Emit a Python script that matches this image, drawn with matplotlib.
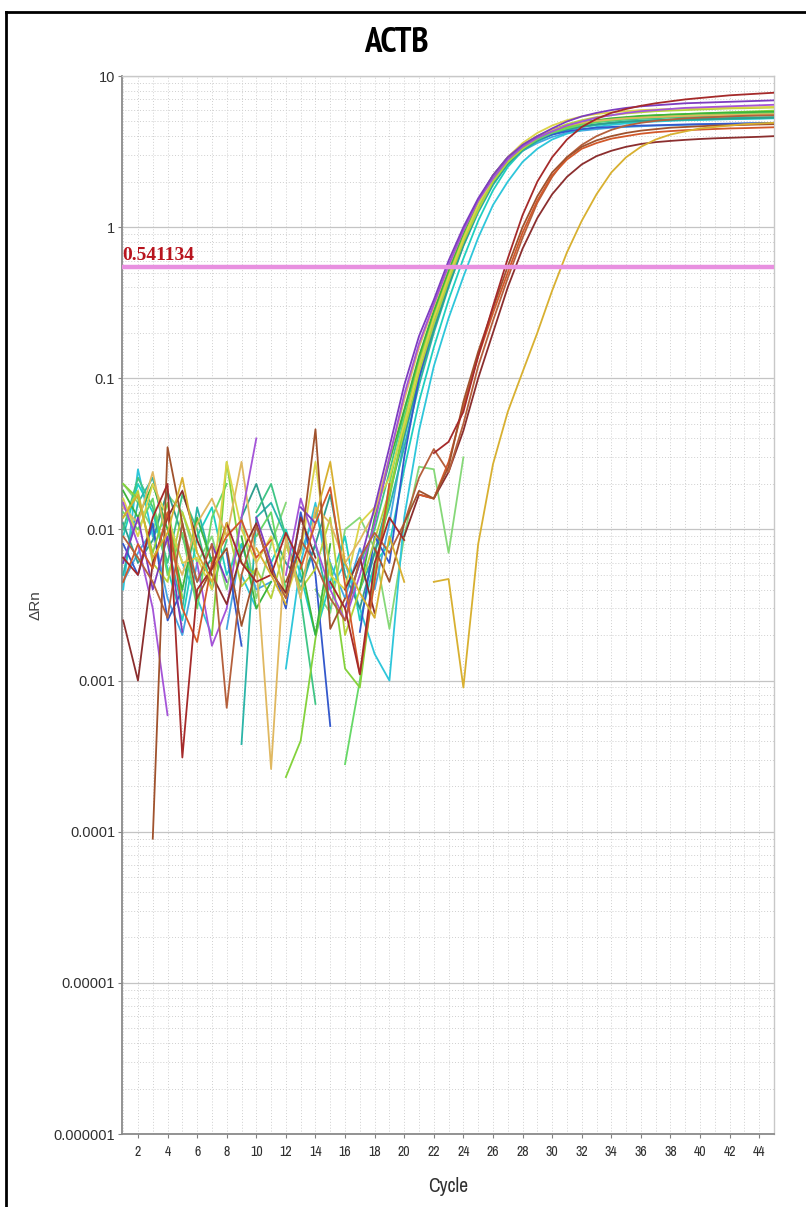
import numpy as np
import matplotlib
matplotlib.use("Agg")
import matplotlib.pyplot as plt
from matplotlib.ticker import LogLocator, MultipleLocator, NullFormatter, FixedLocator
from matplotlib.lines import Line2D

# cycle numbers and axis labels
cycles = list(range(1, 46))
x_ticks = list(range(2, 45, 2))
y_ticks = [1e-6, 1e-5, 1e-4, 1e-3, 1e-2, 1e-1, 1, 10]
y_tick_labels = ["0.000001", "0.00001", "0.0001", "0.001", "0.01", "0.1", "1", "10"]
threshold = 0.541134
N = None

# delta Rn per cycle, 9 cycles per row (1-9, 10-18, 19-27, 28-36, 37-45)
purple = [0.006, 0.012, 0.004, 0.009, 0.0021, N, 0.008, 0.0045, N,
          0.012, 0.006, N, 0.014, 0.011, N, 0.003, 0.006, 0.014,
          0.035, 0.09, 0.19, 0.33, 0.6, 1.0, 1.55, 2.2, 2.9,
          3.5, 4.0, 4.5, 5.0, 5.4, 5.7, 5.95, 6.15, 6.3,
          6.4, 6.5, 6.6, 6.65, 6.7, 6.75, 6.8, 6.85, 6.9]
violet = [0.015, 0.008, 0.003, 0.00059, N, 0.006, 0.0017, 0.003, 0.012,
          0.04, N, 0.005, 0.016, 0.008, 0.004, 0.0025, 0.005, 0.011,
          0.03, 0.078, 0.17, 0.31, 0.56, 0.95, 1.5, 2.1, 2.8,
          3.4, 3.9, 4.3, 4.7, 5.0, 5.3, 5.5, 5.7, 5.85,
          5.95, 6.05, 6.15, 6.2, 6.25, 6.3, 6.35, 6.4, 6.45]
green = [0.018, 0.012, 0.02, 0.01, 0.004, 0.012, 0.006, N, 0.009,
         0.003, 0.0045, N, 0.006, 0.002, 0.008, N, 0.004, 0.012,
         0.028, 0.062, 0.14, 0.28, 0.52, 0.92, 1.5, 2.2, 2.9,
         3.5, 4.0, 4.4, 4.7, 4.95, 5.1, 5.25, 5.35, 5.45,
         5.5, 5.55, 5.6, 5.65, 5.7, 5.72, 5.75, 5.78, 5.8]
lime = [0.02, 0.016, 0.007, 0.015, 0.0035, N, 0.002, 0.028, 0.006,
        0.005, N, 0.00023, 0.0004, 0.0019, 0.006, 0.0012, 0.0009, 0.005,
        0.016, 0.05, 0.13, 0.26, 0.5, 0.88, 1.45, 2.1, 2.8,
        3.4, 3.9, 4.3, 4.6, 4.85, 5.05, 5.2, 5.3, 5.4,
        5.5, 5.55, 5.6, 5.65, 5.7, 5.75, 5.8, 5.85, 5.9]
blue = [0.008, 0.005, 0.011, 0.0025, 0.004, N, N, 0.007, 0.0017,
        N, 0.006, 0.003, 0.013, 0.005, 0.0005, N, 0.0021, 0.009,
        0.006, 0.03, 0.1, 0.24, 0.48, 0.9, 1.5, 2.2, 2.9,
        3.4, 3.8, 4.1, 4.3, 4.45, 4.55, 4.6, 4.65, 4.7,
        4.72, 4.75, 4.78, 4.8, 4.82, 4.84, 4.86, 4.88, 4.9]
cyan = [0.004, 0.025, 0.009, 0.012, 0.006, 0.0035, 0.002, N, 0.005,
        0.003, N, 0.0012, 0.006, 0.015, 0.004, 0.006, 0.003, 0.0015,
        0.001, 0.012, 0.045, 0.12, 0.25, 0.47, 0.85, 1.4, 2.0,
        2.7, 3.3, 3.8, 4.15, 4.4, 4.6, 4.75, 4.85, 4.95,
        5.0, 5.05, 5.1, 5.12, 5.15, 5.18, 5.2, 5.22, 5.25]
turquoise = [0.005, 0.015, 0.022, 0.008, 0.003, 0.014, 0.006, N, 0.00038,
             0.012, 0.015, 0.009, 0.004, 0.008, 0.003, N, 0.004, 0.007,
             0.014, 0.035, 0.09, 0.2, 0.4, 0.75, 1.25, 1.9, 2.6,
             3.2, 3.7, 4.1, 4.4, 4.6, 4.75, 4.9, 5.0, 5.05,
             5.1, 5.15, 5.2, 5.22, 5.25, 5.28, 5.3, 5.32, 5.35]
light_green = [0.013, 0.01, 0.016, 0.005, 0.0095, 0.003, 0.012, 0.02, N,
               0.009, 0.013, 0.004, N, 0.0065, N, 0.00028, 0.001, 0.005,
               0.02, 0.055, 0.12, 0.25, 0.46, 0.82, 1.35, 2.0, 2.7,
               3.3, 3.8, 4.2, 4.5, 4.75, 4.95, 5.1, 5.2, 5.3,
               5.35, 5.4, 5.45, 5.5, 5.55, 5.6, 5.62, 5.65, 5.68]
yellow_green = [0.012, 0.018, 0.006, 0.0045, 0.013, 0.007, N, 0.011, 0.0042,
                0.0055, 0.0035, 0.008, 0.004, 0.0055, 0.012, 0.002, 0.004, 0.0085,
                0.018, 0.045, 0.11, 0.23, 0.44, 0.8, 1.3, 2.0, 2.7,
                3.3, 3.9, 4.4, 4.8, 5.1, 5.35, 5.5, 5.65, 5.75,
                5.85, 5.9, 5.95, 6.0, 6.05, 6.1, 6.12, 6.15, 6.18]
spring = [0.01, 0.022, 0.014, 0.006, 0.017, 0.01, 0.004, 0.0085, N,
          0.013, 0.02, 0.009, 0.0035, 0.0007, N, 0.003, 0.006, 0.01,
          0.024, 0.06, 0.13, 0.27, 0.5, 0.88, 1.4, 2.1, 2.8,
          3.4, 3.9, 4.3, 4.6, 4.8, 4.95, 5.05, 5.15, 5.2,
          5.25, 5.3, 5.35, 5.38, 5.4, 5.42, 5.45, 5.48, 5.5]
sky = [0.0045, 0.007, 0.01, 0.0035, 0.002, 0.006, N, 0.0022, 0.008,
       0.004, 0.0045, N, 0.007, 0.013, 0.006, 0.0035, 0.0075, 0.004,
       0.011, 0.04, 0.1, 0.22, 0.43, 0.78, 1.3, 1.95, 2.6,
       3.2, 3.6, 3.95, 4.2, 4.35, 4.45, 4.55, 4.6, 4.65,
       4.7, 4.72, 4.75, 4.78, 4.8, 4.82, 4.84, 4.86, 4.88]
aqua = [0.009, 0.02, 0.013, 0.0055, 0.0025, 0.009, 0.014, 0.005, 0.008,
        N, 0.006, 0.01, 0.005, 0.002, 0.0045, 0.009, 0.0025, 0.006,
        0.008, 0.025, 0.07, 0.16, 0.33, 0.62, 1.1, 1.75, 2.5,
        3.2, 3.7, 4.1, 4.4, 4.6, 4.75, 4.85, 4.95, 5.0,
        5.05, 5.1, 5.12, 5.15, 5.18, 5.2, 5.22, 5.25, 5.28]
yellow = [0.016, 0.009, 0.02, 0.012, 0.006, 0.0065, 0.004, 0.028, 0.01,
          0.006, 0.009, 0.0035, 0.007, 0.028, 0.005, 0.004, 0.011, 0.014,
          0.022, 0.05, 0.12, 0.25, 0.47, 0.84, 1.4, 2.1, 2.9,
          3.6, 4.2, 4.7, 5.1, 5.4, 5.6, 5.75, 5.85, 5.95,
          6.0, 6.05, 6.1, 6.12, 6.15, 6.18, 6.2, 6.22, 6.25]
khaki = [0.014, 0.011, 0.024, 0.008, 0.005, 0.011, 0.016, 0.009, 0.028,
         0.006, 0.00026, 0.009, 0.0035, 0.014, 0.011, 0.006, 0.0085, 0.013,
         0.03, 0.072, 0.16, 0.3, 0.55, 0.95, 1.5, 2.2, 2.9,
         3.5, 4.0, 4.4, 4.7, 4.9, 5.05, 5.15, 5.25, 5.3,
         5.35, 5.4, 5.45, 5.48, 5.5, 5.52, 5.55, 5.58, 5.6]
teal = [0.011, 0.006, 0.0085, 0.018, 0.009, 0.0045, 0.0065, N, 0.012,
        0.02, 0.01, 0.006, 0.0045, 0.008, 0.017, 0.005, 0.003, 0.007,
        0.017, 0.042, 0.1, 0.21, 0.41, 0.76, 1.28, 1.95, 2.65,
        3.25, 3.75, 4.15, 4.45, 4.65, 4.8, 4.9, 5.0, 5.05,
        5.1, 5.12, 5.15, 5.18, 5.2, 5.22, 5.25, 5.28, 5.3]
dark_red = [0.0065, 0.005, 0.012, 0.02, 0.00031, 0.004, 0.0055, 0.011, 0.006,
            0.0045, 0.005, 0.0095, 0.006, N, 0.0045, 0.003, 0.0011, 0.006,
            0.012, 0.0085, N, 0.032, 0.038, 0.06, 0.14, 0.3, 0.62,
            1.2, 2.0, 2.9, 3.8, 4.6, 5.2, 5.7, 6.05, 6.35,
            6.6, 6.8, 7.0, 7.15, 7.3, 7.45, 7.55, 7.65, 7.75]
brown = [0.003, N, 0.00009, 0.035, 0.011, 0.0035, 0.0055, 0.0075, 0.0023,
         0.0055, N, 0.0045, 0.0075, 0.046, 0.0022, 0.0035, N, 0.0075,
         0.0045, 0.011, 0.018, 0.016, 0.026, 0.07, 0.15, 0.29, 0.55,
         1.0, 1.6, 2.3, 2.9, 3.4, 3.75, 4.0, 4.2, 4.35,
         4.45, 4.55, 4.6, 4.65, 4.7, 4.72, 4.75, 4.78, 4.8]
orange_red = [0.0045, 0.008, 0.0055, 0.013, 0.003, 0.0018, 0.006, 0.009, 0.0115,
              0.0065, 0.0085, N, 0.0055, 0.011, 0.019, 0.0043, 0.0011, 0.0045,
              0.02, N, 0.017, 0.016, 0.028, 0.065, 0.14, 0.27, 0.5,
              0.92, 1.5, 2.2, 2.8, 3.3, 3.6, 3.85, 4.0, 4.15,
              4.25, 4.32, 4.38, 4.42, 4.46, 4.5, 4.52, 4.55, 4.58]
sienna = [0.009, 0.0065, 0.0045, 0.0026, 0.011, 0.0045, 0.008, 0.00066, 0.005,
          0.0105, 0.0055, 0.0035, 0.0085, 0.006, 0.0035, 0.0025, 0.0065, 0.0095,
          0.007, 0.011, 0.022, 0.034, 0.024, 0.05, 0.12, 0.24, 0.46,
          0.85, 1.45, 2.15, 2.9, 3.5, 4.0, 4.4, 4.7, 4.9,
          5.05, 5.15, 5.25, 5.3, 5.35, 5.4, 5.45, 5.48, 5.5]
maroon = [0.0025, 0.001, 0.006, 0.012, 0.018, 0.0085, 0.005, 0.0032, 0.007,
          0.011, 0.0052, 0.0038, 0.012, 0.0065, N, 0.004, 0.0065, 0.0028,
          N, 0.009, 0.017, 0.016, 0.024, 0.045, 0.1, 0.2, 0.4,
          0.72, 1.15, 1.65, 2.15, 2.6, 2.95, 3.2, 3.4, 3.55,
          3.65, 3.72, 3.78, 3.83, 3.87, 3.9, 3.93, 3.96, 4.0]
gold = [0.012, 0.017, 0.0065, 0.0095, 0.022, 0.007, 0.0045, 0.011, N,
        0.0075, 0.005, 0.0032, N, 0.012, 0.028, 0.006, 0.0038, 0.0026,
        0.009, 0.0045, N, 0.0045, 0.0047, 0.0009, 0.008, 0.027, 0.06,
        0.11, 0.2, 0.38, 0.68, 1.1, 1.65, 2.3, 2.9, 3.4,
        3.8, 4.1, 4.3, 4.5, 4.6, 4.7, 4.8, 4.85, 4.9]
pale_green = [0.02, 0.015, 0.01, 0.017, 0.013, 0.006, 0.009, 0.004, 0.012,
              0.0035, 0.008, 0.015, N, 0.004, 0.0028, 0.01, 0.012, 0.0075,
              0.0022, 0.009, 0.026, 0.025, 0.007, 0.03, N, N, N,
              N, N, N, N, N, N, N, N, N,
              N, N, N, N, N, N, N, N, N]

wells = [
    (pale_green, "#86d878"), (sky, "#45a6e2"), (cyan, "#2ec6da"), (aqua, "#1fcfc0"),
    (turquoise, "#2bb5a8"), (teal, "#2e9e8e"), (blue, "#3358cc"), (spring, "#3fc585"),
    (light_green, "#66d866"), (yellow_green, "#b6d23a"), (lime, "#84d23c"),
    (green, "#3cb43c"), (yellow, "#dcd44a"), (khaki, "#e0b860"),
    (violet, "#a454d8"), (purple, "#7d3cc0"),
    (maroon, "#8b2e2e"), (sienna, "#b5603c"), (orange_red, "#d2582a"),
    (brown, "#a0522d"), (dark_red, "#a52a2a"), (gold, "#d8b030"),
]

narrow = ["Liberation Sans Narrow", "Arial Narrow", "Archivo Narrow", "PT Sans Narrow",
          "Roboto Condensed", "Liberation Sans"]
narrow_bold = ["Liberation Sans Narrow", "Arial Narrow", "PT Sans Narrow", "Fjalla One",
               "Archivo Narrow", "Liberation Sans"]
plain = ["Liberation Sans", "Arimo", "DejaVu Sans"]

fig = plt.figure(figsize=(8.06, 12.07), dpi=100)
ax = fig.add_axes([122 / 806, 1 - 1134 / 1207, (774 - 122) / 806, (1134 - 76) / 1207])

for values, colour in wells:
    ax.plot(cycles, np.array(values, dtype=float), color=colour, lw=1.3, zorder=3)

# threshold line
ax.axhline(threshold, color="#e890e0", lw=3.2, zorder=4)
ax.text(0.95, threshold * 1.06, f"{threshold:g}", color="#b8141e", fontsize=14,
        fontweight="bold", family="Liberation Serif", ha="left", va="bottom", zorder=5)

ax.set_yscale("log")
ax.set_ylim(1e-6, 10)
ax.set_xlim(0.92, 45.0)
ax.yaxis.set_major_locator(FixedLocator(y_ticks))
ax.set_yticklabels(y_tick_labels)
ax.yaxis.set_minor_locator(LogLocator(base=10, subs=range(2, 10), numticks=20))
ax.yaxis.set_minor_formatter(NullFormatter())
ax.set_xticks(x_ticks)
ax.xaxis.set_minor_locator(MultipleLocator(1))

ax.grid(which="major", axis="y", color="#c4c4c4", lw=0.9)
ax.grid(which="minor", axis="y", color="#cfcfcf", lw=0.7, ls=(0, (1, 2)))
ax.grid(which="both", axis="x", color="#cfcfcf", lw=0.7, ls=(0, (1, 2)))
ax.set_axisbelow(True)

ax.tick_params(which="minor", length=0)
ax.tick_params(axis="y", which="major", length=3, color="#808080", labelsize=10.5,
               labelcolor="#303030", pad=2)
ax.tick_params(axis="x", which="major", length=3, color="#808080", labelsize=10,
               labelcolor="#303030", pad=5)
for lab in ax.get_xticklabels():
    lab.set_family(narrow)
for lab in ax.get_yticklabels():
    lab.set_family(plain)

for side in ("left", "bottom"):
    ax.spines[side].set_color("#8a8a8a")
    ax.spines[side].set_linewidth(1.3)
for side in ("top", "right"):
    ax.spines[side].set_color("#c8c8c8")
    ax.spines[side].set_linewidth(1.0)

ax.set_ylabel("ΔRn", fontsize=11, color="#404040", family=plain, labelpad=8)
ax.set_xlabel("Cycle", fontsize=14, color="#303030", family=narrow, labelpad=13)

fig.text(396 / 806, 1 - 43 / 1207, "ACTB", fontsize=25, fontweight="bold",
         family=narrow_bold, ha="center", va="center")

# outer black frame (left and top edges visible)
fig.add_artist(Line2D([6 / 806, 6 / 806], [0, 1 - 12 / 1207], color="black", lw=2, transform=fig.transFigure))
fig.add_artist(Line2D([6 / 806, 1], [1 - 12 / 1207, 1 - 12 / 1207], color="black", lw=2, transform=fig.transFigure))

fig.savefig("out.png", dpi=100)
